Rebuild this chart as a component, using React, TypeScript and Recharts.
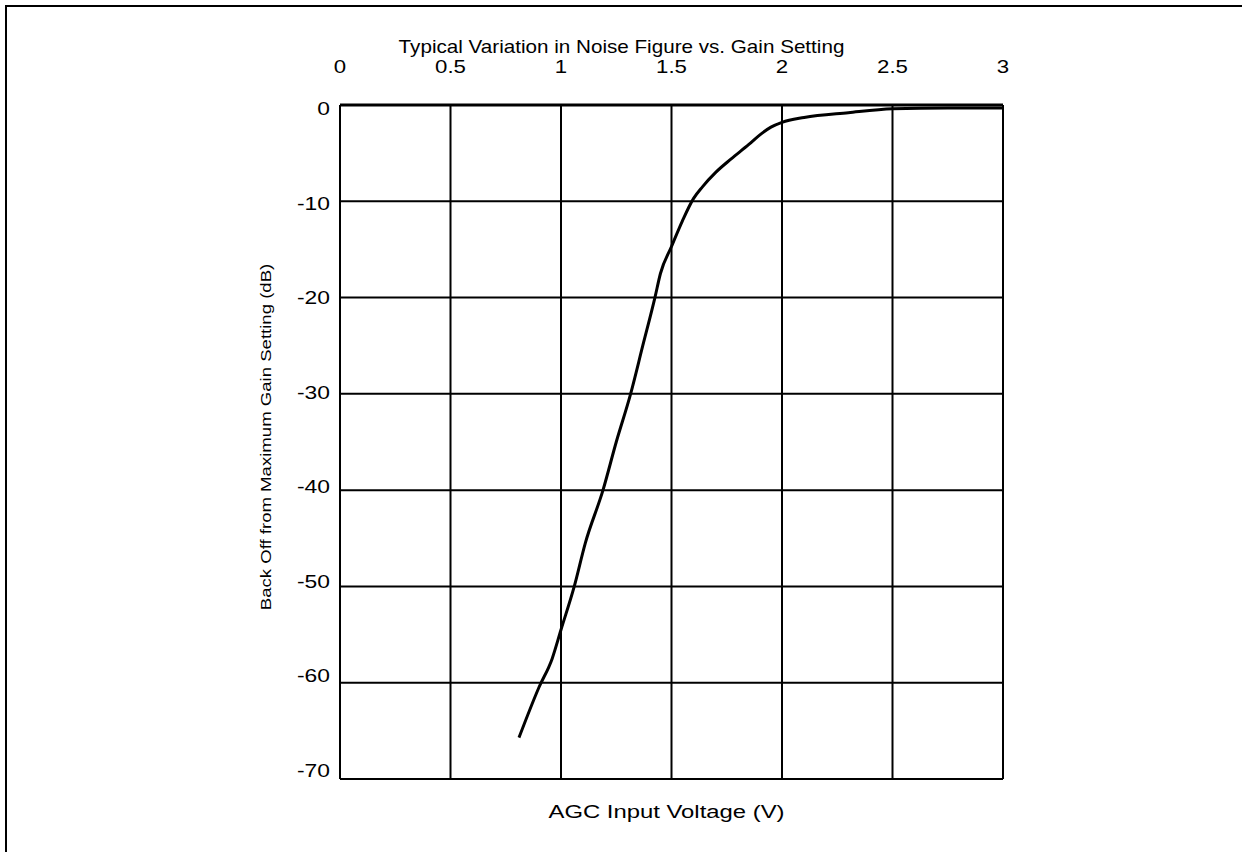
import { LineChart, Line, XAxis, YAxis, CartesianGrid } from 'recharts'

// AGC input voltage (V) vs back off from max gain (dB)
const agcVolts = [
  0.81, 0.9, 0.96, 1.0, 1.06, 1.11, 1.19, 1.25, 1.315, 1.37, 1.425, 1.45, 1.5,
  1.55, 1.6, 1.64, 1.7, 1.77, 1.85, 1.9, 1.95, 2.0, 2.1, 2.3, 2.5, 2.75, 3.0,
]
const backOffDb = [
  -65.7, -60.5, -57.5, -54.5, -50, -45.5, -40, -35, -30, -25, -20, -17.5, -14.7,
  -12, -9.7, -8.5, -7, -5.6, -4.1, -3.1, -2.3, -1.8, -1.3, -0.8, -0.4, -0.3, -0.3,
]
const xTicks = [0, 0.5, 1, 1.5, 2, 2.5, 3]
const yTicks = [0, -10, -20, -30, -40, -50, -60, -70]

const title = 'Typical Variation in Noise Figure vs. Gain Setting'
const xLabel = 'AGC Input Voltage (V)'
const yLabel = 'Back Off from Maximum Gain Setting (dB)'

const data = agcVolts.map((v, i) => ({ v, db: backOffDb[i] }))

const font = '"Liberation Sans", Arial, sans-serif'

// the source text is drawn a bit wider than plain Arial
function StretchText({ x, y, size, anchor = 'middle', sx = 1.27, rotate = 0, children }: any) {
  return (
    <text
      x={0}
      y={0}
      transform={`translate(${x},${y}) rotate(${rotate}) scale(${sx},1)`}
      textAnchor={anchor}
      fontSize={size}
      fontFamily={font}
      fill="#000"
    >
      {children}
    </text>
  )
}

export default function App() {
  return (
    <div style={{ position: 'absolute', left: 0, top: 0, width: 1249, height: 852, overflow: 'hidden', background: '#fff' }}>
      <div
        style={{
          position: 'absolute',
          left: 5,
          top: 5,
          width: 1235,
          height: 900,
          borderTop: '2px solid #000',
          borderLeft: '2px solid #000',
        }}
      />
      <LineChart
        width={1249}
        height={852}
        data={data}
        margin={{ top: 30, right: 246, bottom: 5, left: 265 }}
        style={{ position: 'absolute', left: 0, top: 0 }}
      >
        <CartesianGrid stroke="#000" strokeWidth={2} />
        <XAxis
          dataKey="v"
          type="number"
          orientation="top"
          domain={[0, 3]}
          ticks={xTicks}
          height={75}
          tickLine={false}
          tickMargin={26}
          axisLine={{ stroke: '#000', strokeWidth: 3 }}
          tick={(p: any) => (
            <StretchText x={p.x} y={p.y} size={17.5}>
              {p.payload.value}
            </StretchText>
          )}
          label={{
            content: (p: any) => (
              <StretchText x={p.viewBox.x + p.viewBox.width / 2 - 50} y={53} size={17.5} sx={1.18}>
                {title}
              </StretchText>
            ),
          }}
        />
        <XAxis
          xAxisId="bottom"
          dataKey="v"
          type="number"
          orientation="bottom"
          domain={[0, 3]}
          ticks={xTicks}
          height={68}
          tick={false}
          tickLine={false}
          axisLine={false}
          label={{
            content: (p: any) => (
              <StretchText x={p.viewBox.x + p.viewBox.width / 2 - 5} y={818} size={18.5} sx={1.29}>
                {xLabel}
              </StretchText>
            ),
          }}
        />
        <YAxis
          type="number"
          domain={[-70, 0]}
          ticks={yTicks}
          width={75}
          tickLine={false}
          tickMargin={4}
          axisLine={{ stroke: '#000', strokeWidth: 2 }}
          tick={(p: any) => (
            <StretchText x={p.x} y={p.y + 10 - 0.0178 * (p.y - 105)} size={18} anchor="end">
              {p.payload.value}
            </StretchText>
          )}
          label={{
            content: (p: any) => (
              <StretchText x={271} y={p.viewBox.y + p.viewBox.height / 2 - 5} size={15} sx={1.24} rotate={-90}>
                {yLabel}
              </StretchText>
            ),
          }}
        />
        <Line
          dataKey="db"
          type="monotone"
          stroke="#000"
          strokeWidth={3}
          dot={false}
          isAnimationActive={false}
        />
      </LineChart>
    </div>
  )
}
